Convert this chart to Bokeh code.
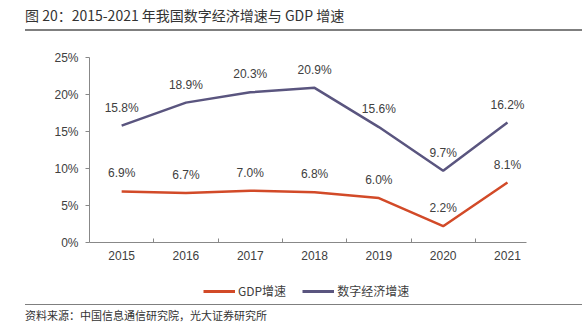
from bokeh.plotting import figure
from bokeh.layouts import column
from bokeh.models import (FixedTicker, PrintfTickFormatter, ColumnDataSource, LabelSet,
                          Legend, LegendItem, Range1d, Div)
from bokeh.core.properties import value
from bokeh.embed import file_html
from bokeh.resources import INLINE

years = ["2015", "2016", "2017", "2018", "2019", "2020", "2021"]
gdp = [6.9, 6.7, 7.0, 6.8, 6.0, 2.2, 8.1]
digital = [15.8, 18.9, 20.3, 20.9, 15.6, 9.7, 16.2]
y_ticks = [0, 5, 10, 15, 20, 25]
series_names = ["GDP增速", "数字经济增速"]

title_text = "图 20：2015-2021 年我国数字经济增速与 GDP 增速"
source_text = "资料来源：中国信息通信研究院，光大证券研究所"

GDP_COLOR = "#D24A28"
DIG_COLOR = "#5A557F"
LATIN = "Liberation Sans"
CJK = "Noto Sans CJK SC"
W = 582
TOP_H, MAIN_H, LEG_H, FOOT_H = 36, 236, 28, 34

# ---- title ----
title_div = Div(
    text=(f'<div style="font-family:\'{CJK}\';font-size:14px;line-height:30px;'
          f'color:#333333;white-space:nowrap;">{title_text}</div>'),
    width=W - 25, height=31, margin=(0, 0, TOP_H - 31, 25),
    styles={"border-bottom": "2px solid #7F7F7F", "box-sizing": "border-box",
            "font-family": CJK, "font-size": "14px", "color": "#333333",
            "line-height": "30px"})

# ---- main chart ----
xs = list(range(len(years)))
src = ColumnDataSource(dict(
    x=xs, gdp=gdp, dig=digital,
    gdp_lab=[f"{v:.1f}%" for v in gdp],
    dig_lab=[f"{v:.1f}%" for v in digital],
))

p = figure(width=W, height=MAIN_H, output_backend="svg", toolbar_location=None,
           x_range=Range1d(-0.5, 6.296), y_range=Range1d(0, 25),
           min_border_left=89, min_border_right=56, min_border_top=57 - TOP_H,
           min_border_bottom=TOP_H + MAIN_H - 242, margin=0)
p.outline_line_color = None
p.xgrid.visible = False
p.ygrid.visible = False
p.background_fill_color = "white"
p.border_fill_color = "white"

p.line("x", "gdp", source=src, line_color=GDP_COLOR, line_width=2.5)
p.line("x", "dig", source=src, line_color=DIG_COLOR, line_width=2.5)

for col, ycol in (("gdp_lab", "gdp"), ("dig_lab", "dig")):
    p.add_layout(LabelSet(x="x", y=ycol, text=col, source=src, text_align="center",
                          text_baseline="bottom", y_offset=11, text_font=value(LATIN),
                          text_font_size=value("12px"), text_color=value("#404040")))

xa = p.xaxis[0]
xa.ticker = FixedTicker(ticks=xs, minor_ticks=[i + 0.5 for i in xs[:-1]])
xa.major_label_overrides = {i: y for i, y in zip(xs, years)}
xa.major_tick_in = 0
xa.major_tick_out = 0
xa.minor_tick_in = 4
xa.minor_tick_out = 0
xa.minor_tick_line_color = "#888888"
xa.axis_line_color = "#888888"
xa.major_label_standoff = 8
xa.major_label_text_font = LATIN
xa.major_label_text_font_size = "12px"
xa.major_label_text_color = "#404040"

ya = p.yaxis[0]
ya.ticker = FixedTicker(ticks=y_ticks, minor_ticks=[])
ya.formatter = PrintfTickFormatter(format="%d%%")
ya.major_tick_in = 0
ya.major_tick_out = 4
ya.major_tick_line_color = "#888888"
ya.axis_line_color = "#888888"
ya.major_label_standoff = 7
ya.major_label_text_font = LATIN
ya.major_label_text_font_size = "12px"
ya.major_label_text_color = "#404040"

# ---- legend strip ----
leg = figure(width=W, height=LEG_H, output_backend="svg", toolbar_location=None,
             x_range=Range1d(0, 1), y_range=Range1d(0, 1),
             x_axis_location=None, y_axis_location=None,
             min_border_left=89, min_border_right=56, min_border_top=0,
             min_border_bottom=0, margin=0)
leg.outline_line_color = None
leg.xgrid.visible = False
leg.ygrid.visible = False
leg.border_fill_color = "white"
leg.background_fill_color = "white"
lg = leg.line([-2, -1], [-2, -2], line_color=GDP_COLOR, line_width=3)
ld = leg.line([-2, -1], [-2, -2], line_color=DIG_COLOR, line_width=3)
legend = Legend(items=[LegendItem(label=series_names[0], renderers=[lg]),
                       LegendItem(label=series_names[1], renderers=[ld])],
                location=(114, 1), orientation="horizontal",
                glyph_width=32, glyph_height=12, label_standoff=3, spacing=16,
                padding=0, margin=0, border_line_color=None, background_fill_alpha=0,
                label_text_font=CJK, label_text_font_size="12px", label_text_color="#404040",
                label_height=14)
leg.add_layout(legend)

# ---- source footer ----
foot_div = Div(
    text=(f'<div style="font-family:\'{CJK}\';font-size:11px;line-height:20px;'
          f'color:#333333;white-space:nowrap;">{source_text}</div>'),
    width=W - 25, height=FOOT_H - 4, margin=(4, 0, 0, 25),
    styles={"border-top": "1px solid #7F7F7F", "box-sizing": "border-box",
            "font-family": CJK, "font-size": "11px", "color": "#333333",
            "line-height": "20px"})

layout = column(title_div, p, leg, foot_div, spacing=0)
open("out.html", "w").write(file_html(layout, INLINE))
